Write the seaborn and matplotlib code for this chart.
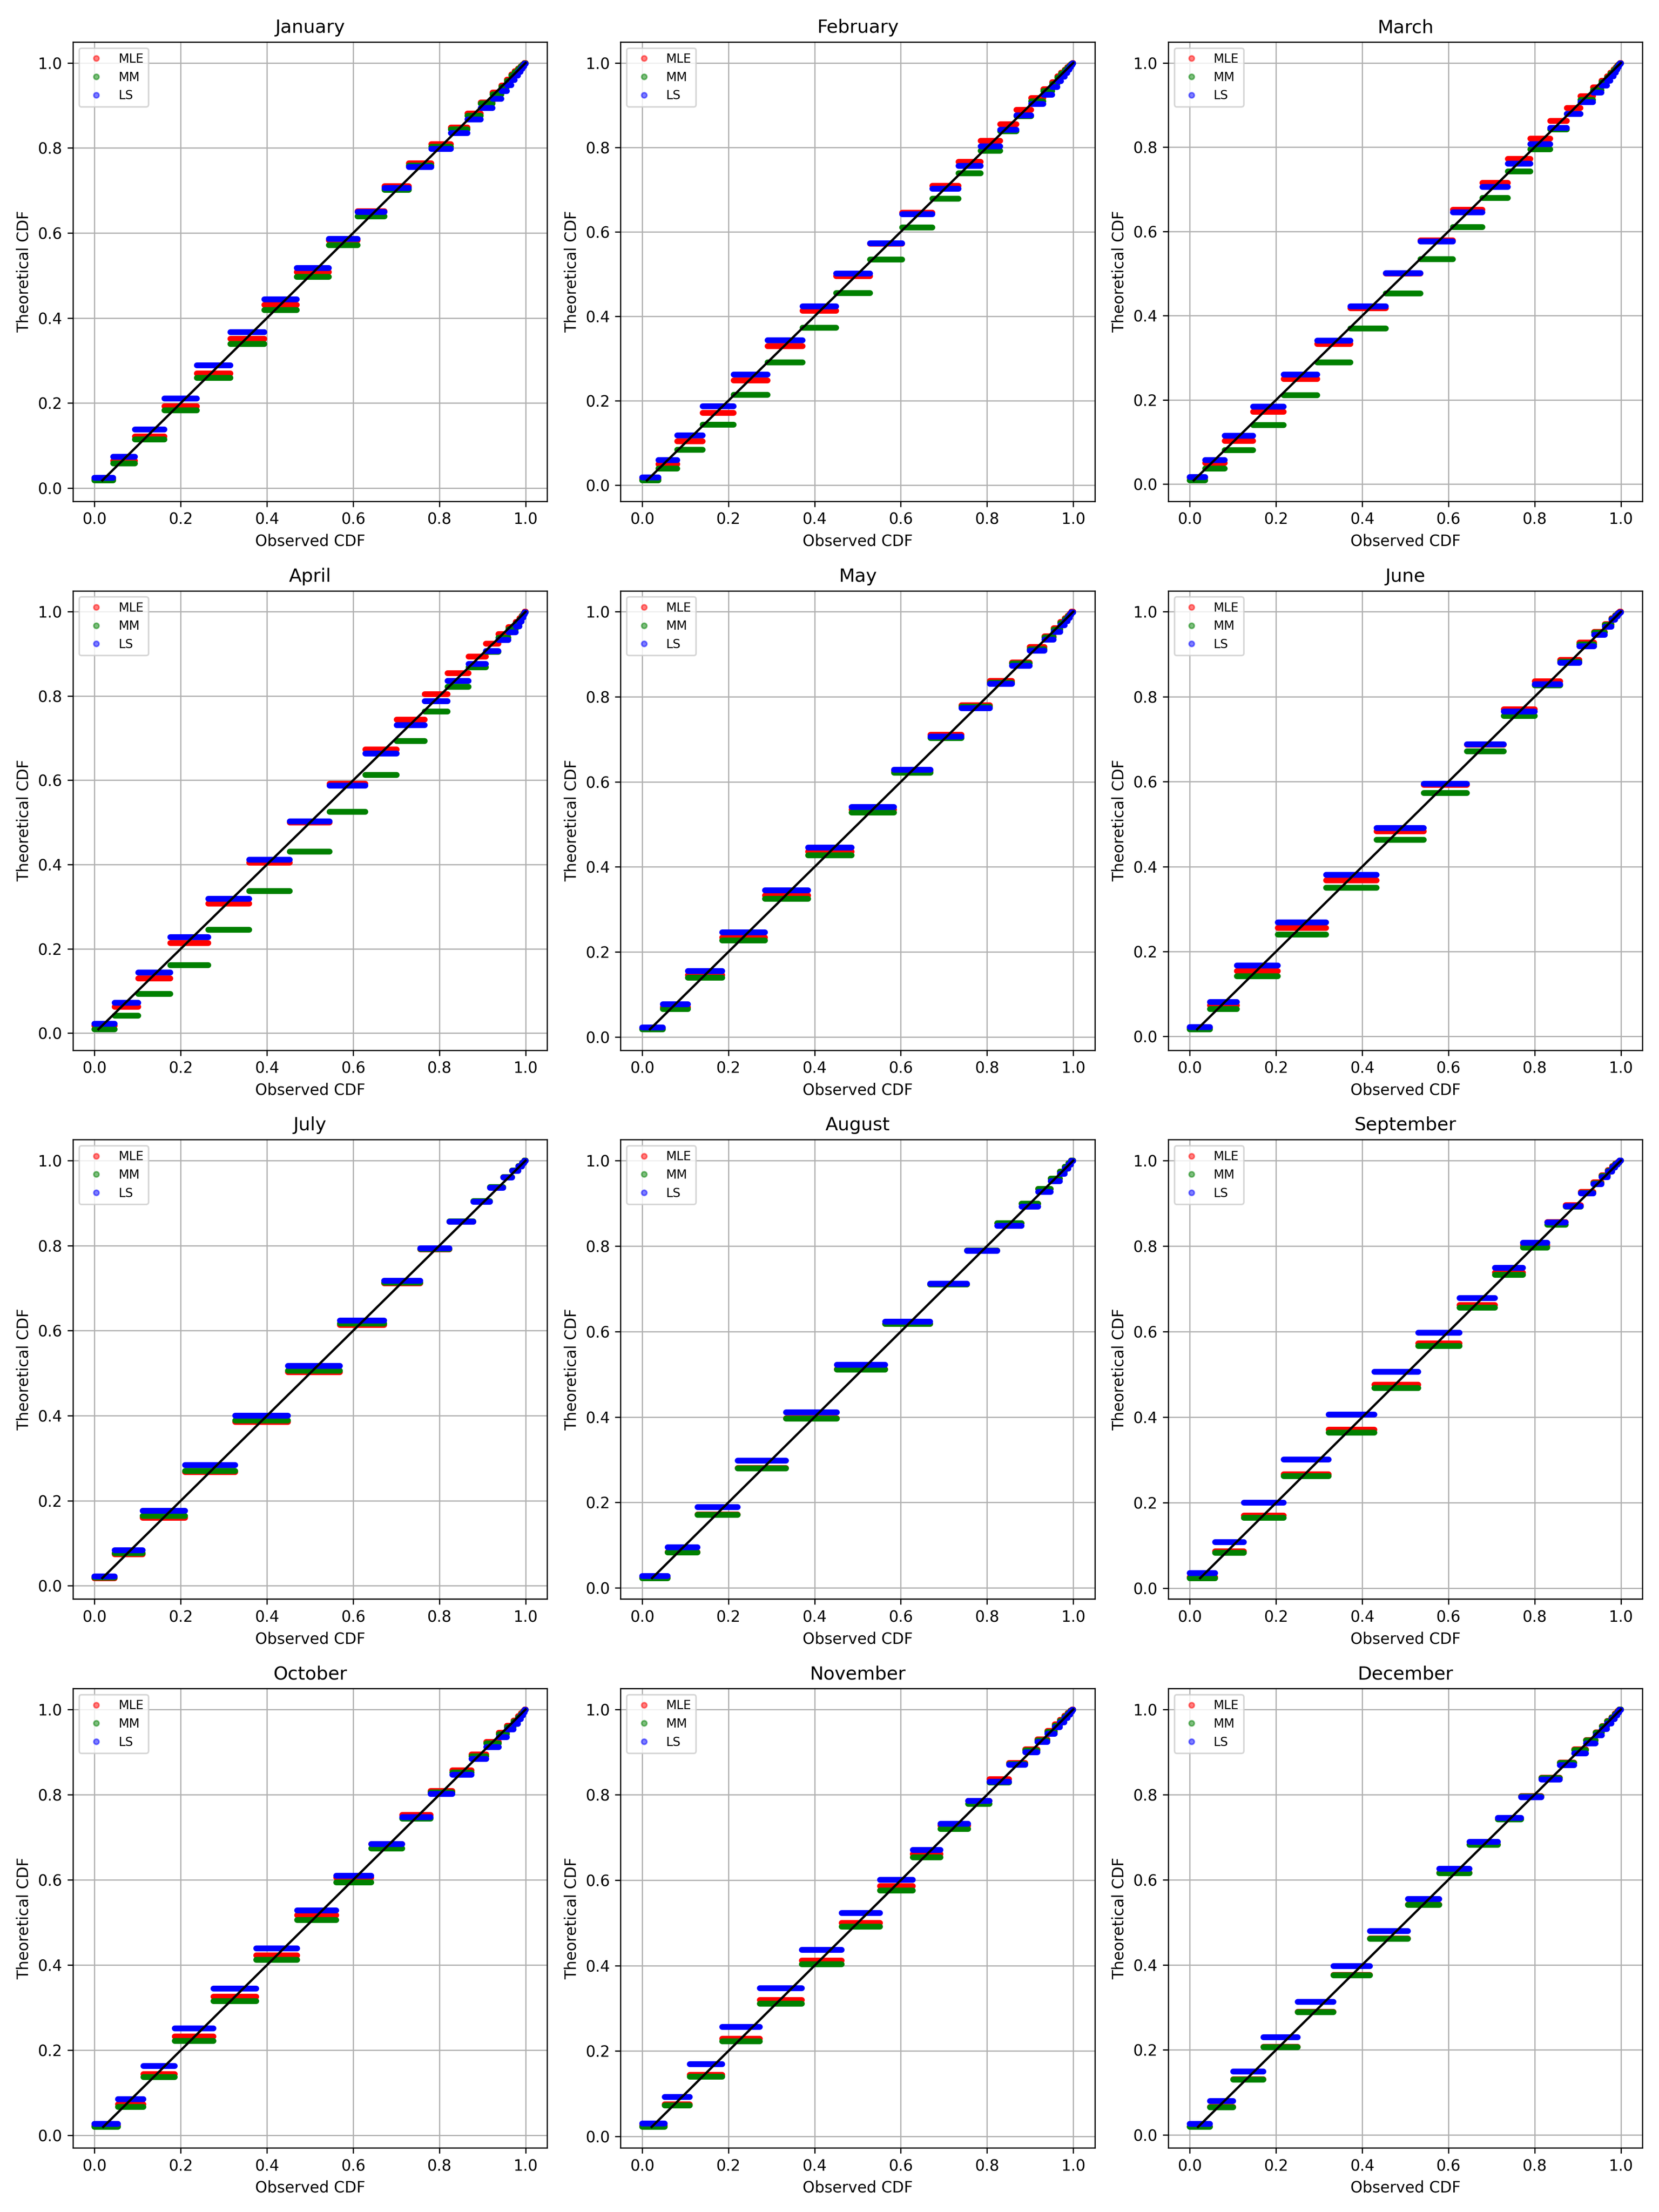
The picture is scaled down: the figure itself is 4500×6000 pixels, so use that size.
import numpy as np
import pandas as pd
import matplotlib
matplotlib.use("Agg")
import matplotlib.pyplot as plt
from matplotlib.lines import Line2D
import seaborn as sns

months = ["January", "February", "March", "April", "May", "June",
          "July", "August", "September", "October", "November", "December"]
methods = ["MLE", "MM", "LS"]
colors = {"MLE": "red", "MM": "green", "LS": "blue"}

# step boundaries on the observed CDF axis, and the theoretical CDF level of each step
jan_edges = [0.0, 0.043, 0.094, 0.162, 0.237, 0.315, 0.394, 0.469, 0.544, 0.610, 0.673, 0.729, 0.781,
             0.827, 0.865, 0.896, 0.923, 0.944, 0.957, 0.967, 0.975, 0.982, 0.988, 0.993, 0.997, 1.0]
jan_mle = [0.022, 0.064, 0.121, 0.192, 0.270, 0.351, 0.431, 0.508, 0.583, 0.651, 0.710, 0.764, 0.809,
           0.848, 0.881, 0.907, 0.930, 0.947, 0.961, 0.973, 0.981, 0.987, 0.992, 0.996, 1.0]
jan_mm = [0.018, 0.058, 0.114, 0.183, 0.259, 0.339, 0.419, 0.497, 0.571, 0.639, 0.701, 0.759, 0.803,
          0.844, 0.876, 0.904, 0.926, 0.943, 0.957, 0.970, 0.978, 0.985, 0.991, 0.995, 0.999]
jan_ls = [0.024, 0.074, 0.138, 0.211, 0.289, 0.367, 0.444, 0.518, 0.586, 0.649, 0.706, 0.755, 0.798,
          0.835, 0.867, 0.894, 0.916, 0.934, 0.948, 0.960, 0.970, 0.979, 0.986, 0.992, 0.998]

feb_edges = [0.0, 0.038, 0.081, 0.140, 0.212, 0.291, 0.372, 0.450, 0.529, 0.603, 0.673, 0.734, 0.785,
             0.831, 0.868, 0.902, 0.931, 0.951, 0.963, 0.972, 0.980, 0.986, 0.991, 0.995, 0.998, 1.0]
feb_mle = [0.015, 0.050, 0.104, 0.171, 0.248, 0.329, 0.413, 0.495, 0.572, 0.645, 0.709, 0.766, 0.815,
           0.855, 0.889, 0.917, 0.938, 0.954, 0.968, 0.977, 0.984, 0.990, 0.994, 0.997, 1.0]
feb_mm = [0.011, 0.039, 0.084, 0.143, 0.214, 0.291, 0.373, 0.455, 0.534, 0.610, 0.678, 0.739, 0.792,
          0.838, 0.874, 0.909, 0.933, 0.950, 0.965, 0.974, 0.982, 0.988, 0.993, 0.997, 0.999]
feb_ls = [0.018, 0.059, 0.118, 0.187, 0.262, 0.343, 0.423, 0.501, 0.573, 0.642, 0.702, 0.756, 0.802,
          0.842, 0.876, 0.903, 0.925, 0.943, 0.957, 0.967, 0.976, 0.984, 0.990, 0.995, 0.999]

mar_edges = [0.0, 0.036, 0.081, 0.147, 0.218, 0.296, 0.373, 0.455, 0.535, 0.610, 0.679, 0.738, 0.790,
             0.836, 0.875, 0.906, 0.935, 0.955, 0.968, 0.976, 0.983, 0.988, 0.992, 0.995, 0.998, 1.0]
mar_mle = [0.015, 0.050, 0.103, 0.172, 0.250, 0.333, 0.418, 0.500, 0.579, 0.651, 0.715, 0.772, 0.820,
           0.862, 0.893, 0.921, 0.942, 0.958, 0.968, 0.977, 0.985, 0.990, 0.994, 0.997, 1.0]
mar_mm = [0.009, 0.037, 0.081, 0.140, 0.211, 0.289, 0.370, 0.453, 0.534, 0.610, 0.679, 0.742, 0.795,
          0.842, 0.879, 0.912, 0.935, 0.954, 0.965, 0.974, 0.982, 0.988, 0.993, 0.997, 0.999]
mar_ls = [0.017, 0.057, 0.115, 0.184, 0.260, 0.341, 0.422, 0.501, 0.576, 0.645, 0.706, 0.761, 0.807,
          0.846, 0.879, 0.907, 0.930, 0.946, 0.958, 0.968, 0.977, 0.984, 0.990, 0.995, 0.999]

apr_edges = [0.0, 0.047, 0.101, 0.176, 0.264, 0.359, 0.453, 0.545, 0.628, 0.701, 0.766, 0.819, 0.868,
             0.908, 0.937, 0.960, 0.977, 0.986, 0.991, 0.995, 0.998, 1.0]
apr_mle = [0.018, 0.062, 0.130, 0.214, 0.307, 0.404, 0.500, 0.592, 0.673, 0.744, 0.804, 0.854, 0.894,
           0.924, 0.947, 0.964, 0.976, 0.985, 0.991, 0.996, 1.0]
apr_mm = [0.009, 0.041, 0.093, 0.161, 0.245, 0.337, 0.431, 0.525, 0.613, 0.693, 0.763, 0.822, 0.868,
          0.905, 0.938, 0.958, 0.971, 0.981, 0.989, 0.995, 0.999]
apr_ls = [0.022, 0.072, 0.144, 0.228, 0.319, 0.411, 0.502, 0.587, 0.663, 0.731, 0.788, 0.836, 0.876,
          0.907, 0.933, 0.951, 0.965, 0.977, 0.986, 0.993, 0.999]

may_edges = [0.0, 0.048, 0.106, 0.186, 0.285, 0.385, 0.486, 0.584, 0.669, 0.741, 0.807, 0.858, 0.899,
             0.933, 0.955, 0.970, 0.980, 0.987, 0.992, 0.996, 1.0]
may_mle = [0.020, 0.070, 0.145, 0.234, 0.333, 0.436, 0.535, 0.626, 0.711, 0.780, 0.837, 0.881, 0.917,
           0.942, 0.961, 0.976, 0.985, 0.991, 0.996, 1.0]
may_mm = [0.018, 0.066, 0.139, 0.227, 0.325, 0.427, 0.528, 0.621, 0.703, 0.777, 0.833, 0.878, 0.912,
          0.940, 0.958, 0.973, 0.982, 0.989, 0.994, 0.999]
may_ls = [0.022, 0.077, 0.155, 0.246, 0.345, 0.445, 0.541, 0.628, 0.706, 0.773, 0.830, 0.873, 0.908,
          0.934, 0.953, 0.968, 0.978, 0.986, 0.993, 0.999]

jun_edges = [0.0, 0.047, 0.109, 0.204, 0.316, 0.433, 0.543, 0.643, 0.728, 0.800, 0.859, 0.904, 0.938,
             0.963, 0.978, 0.987, 0.993, 0.997, 1.0]
jun_mle = [0.020, 0.073, 0.154, 0.256, 0.368, 0.483, 0.592, 0.687, 0.770, 0.836, 0.887, 0.927, 0.953,
           0.971, 0.985, 0.992, 0.997, 1.0]
jun_mm = [0.017, 0.065, 0.142, 0.240, 0.350, 0.463, 0.573, 0.671, 0.755, 0.827, 0.882, 0.923, 0.951,
          0.969, 0.983, 0.991, 0.996, 0.999]
jun_ls = [0.022, 0.081, 0.167, 0.269, 0.381, 0.491, 0.595, 0.688, 0.765, 0.829, 0.880, 0.919, 0.946,
          0.965, 0.981, 0.989, 0.995, 0.999]

jul_edges = [0.0, 0.047, 0.112, 0.210, 0.326, 0.449, 0.569, 0.672, 0.756, 0.823, 0.879, 0.917, 0.948,
             0.969, 0.983, 0.992, 0.997, 1.0]
jul_mle = [0.018, 0.074, 0.160, 0.267, 0.385, 0.502, 0.613, 0.711, 0.791, 0.856, 0.904, 0.937, 0.961,
           0.977, 0.987, 0.995, 1.0]
jul_mm = [0.019, 0.077, 0.164, 0.270, 0.389, 0.506, 0.617, 0.713, 0.792, 0.857, 0.905, 0.938, 0.961,
          0.977, 0.987, 0.995, 1.0]
jul_ls = [0.022, 0.084, 0.176, 0.284, 0.400, 0.517, 0.624, 0.717, 0.794, 0.856, 0.903, 0.936, 0.960,
          0.976, 0.986, 0.994, 0.999]

aug_edges = [0.0, 0.059, 0.128, 0.222, 0.334, 0.452, 0.564, 0.668, 0.754, 0.824, 0.880, 0.919, 0.948,
             0.969, 0.980, 0.989, 0.995, 1.0]
aug_mle = [0.024, 0.084, 0.172, 0.281, 0.397, 0.512, 0.618, 0.710, 0.790, 0.853, 0.899, 0.934, 0.958,
           0.974, 0.985, 0.994, 1.0]
aug_mm = [0.023, 0.083, 0.171, 0.280, 0.396, 0.511, 0.618, 0.710, 0.790, 0.853, 0.899, 0.934, 0.958,
          0.974, 0.985, 0.994, 1.0]
aug_ls = [0.028, 0.095, 0.189, 0.298, 0.411, 0.522, 0.623, 0.712, 0.789, 0.847, 0.892, 0.927, 0.952,
          0.969, 0.981, 0.991, 0.999]

sep_edges = [0.0, 0.059, 0.125, 0.218, 0.322, 0.428, 0.530, 0.626, 0.708, 0.773, 0.829, 0.872, 0.907,
             0.936, 0.955, 0.970, 0.980, 0.987, 0.993, 0.997, 1.0]
sep_mle = [0.026, 0.087, 0.170, 0.267, 0.371, 0.476, 0.573, 0.662, 0.738, 0.803, 0.856, 0.896, 0.927,
           0.949, 0.966, 0.978, 0.987, 0.993, 0.997, 1.0]
sep_mm = [0.024, 0.083, 0.165, 0.262, 0.364, 0.468, 0.567, 0.656, 0.733, 0.797, 0.850, 0.892, 0.924,
          0.947, 0.964, 0.976, 0.985, 0.992, 0.996, 1.0]
sep_ls = [0.036, 0.108, 0.200, 0.301, 0.406, 0.506, 0.598, 0.679, 0.749, 0.808, 0.855, 0.893, 0.923,
          0.945, 0.961, 0.974, 0.984, 0.991, 0.996, 1.0]

oct_edges = [0.0, 0.054, 0.113, 0.186, 0.276, 0.375, 0.470, 0.561, 0.642, 0.714, 0.780, 0.830, 0.875,
             0.909, 0.938, 0.957, 0.972, 0.982, 0.989, 0.994, 0.998, 1.0]
oct_mle = [0.023, 0.073, 0.144, 0.232, 0.326, 0.423, 0.517, 0.605, 0.684, 0.752, 0.809, 0.857, 0.894,
           0.924, 0.945, 0.962, 0.974, 0.984, 0.991, 0.996, 1.0]
oct_mm = [0.020, 0.067, 0.137, 0.222, 0.315, 0.412, 0.506, 0.594, 0.674, 0.744, 0.805, 0.852, 0.890,
          0.920, 0.942, 0.958, 0.971, 0.981, 0.989, 0.995, 0.999]
oct_ls = [0.027, 0.085, 0.163, 0.251, 0.345, 0.439, 0.528, 0.610, 0.684, 0.747, 0.802, 0.847, 0.884,
          0.912, 0.935, 0.953, 0.966, 0.977, 0.986, 0.993, 0.999]

nov_edges = [0.0, 0.052, 0.110, 0.186, 0.273, 0.370, 0.463, 0.552, 0.628, 0.692, 0.756, 0.806, 0.851,
             0.889, 0.917, 0.940, 0.957, 0.969, 0.979, 0.987, 0.993, 0.997, 1.0]
nov_mle = [0.026, 0.075, 0.144, 0.229, 0.319, 0.412, 0.500, 0.586, 0.661, 0.728, 0.786, 0.837, 0.875,
           0.907, 0.930, 0.950, 0.965, 0.976, 0.985, 0.992, 0.997, 1.0]
nov_mm = [0.022, 0.072, 0.140, 0.223, 0.311, 0.403, 0.491, 0.576, 0.654, 0.720, 0.779, 0.829, 0.872,
          0.904, 0.927, 0.947, 0.962, 0.973, 0.983, 0.990, 0.996, 0.999]
nov_ls = [0.030, 0.092, 0.169, 0.256, 0.347, 0.437, 0.523, 0.601, 0.671, 0.732, 0.786, 0.831, 0.870,
          0.900, 0.924, 0.943, 0.958, 0.970, 0.980, 0.988, 0.995, 0.999]

dec_edges = [0.0, 0.047, 0.101, 0.171, 0.250, 0.333, 0.418, 0.506, 0.579, 0.649, 0.715, 0.769, 0.816,
             0.858, 0.892, 0.919, 0.941, 0.956, 0.968, 0.978, 0.986, 0.992, 0.996, 1.0]
dec_mle = [0.020, 0.066, 0.131, 0.207, 0.290, 0.376, 0.462, 0.542, 0.616, 0.683, 0.743, 0.796, 0.840,
           0.875, 0.906, 0.928, 0.946, 0.961, 0.973, 0.982, 0.990, 0.996, 1.0]
dec_mm = [0.019, 0.065, 0.130, 0.206, 0.289, 0.375, 0.461, 0.541, 0.615, 0.682, 0.742, 0.795, 0.839,
          0.874, 0.905, 0.927, 0.945, 0.960, 0.972, 0.981, 0.989, 0.995, 1.0]
dec_ls = [0.026, 0.080, 0.149, 0.230, 0.313, 0.397, 0.479, 0.555, 0.626, 0.689, 0.745, 0.794, 0.835,
          0.869, 0.897, 0.920, 0.939, 0.954, 0.967, 0.977, 0.986, 0.993, 0.999]

month_data = [
    (jan_edges, jan_mle, jan_mm, jan_ls),
    (feb_edges, feb_mle, feb_mm, feb_ls),
    (mar_edges, mar_mle, mar_mm, mar_ls),
    (apr_edges, apr_mle, apr_mm, apr_ls),
    (may_edges, may_mle, may_mm, may_ls),
    (jun_edges, jun_mle, jun_mm, jun_ls),
    (jul_edges, jul_mle, jul_mm, jul_ls),
    (aug_edges, aug_mle, aug_mm, aug_ls),
    (sep_edges, sep_mle, sep_mm, sep_ls),
    (oct_edges, oct_mle, oct_mm, oct_ls),
    (nov_edges, nov_mle, nov_mm, nov_ls),
    (dec_edges, dec_mle, dec_mm, dec_ls),
]


def steps_frame(edges, mle, mm, ls):
    # long-form table: each step is one "unit" with a start and an end point
    rows = []
    for name, levels in zip(methods, (mle, mm, ls)):
        for i, y in enumerate(levels):
            rows.append((name, i, edges[i], y))
            rows.append((name, i, edges[i + 1], y))
    return pd.DataFrame(rows, columns=["method", "step", "obs", "theo"])


fig, axes = plt.subplots(4, 3, figsize=(15, 20))

legend_handles = [Line2D([], [], marker="o", ls="", color=colors[m], alpha=0.5,
                         markersize=3.4, label=m) for m in methods]

for ax, month, (edges, mle, mm, ls) in zip(axes.flat, months, month_data):
    df = steps_frame(edges, mle, mm, ls)
    sns.lineplot(data=df, x="obs", y="theo", hue="method", hue_order=methods,
                 palette=colors, units="step", estimator=None, sort=False,
                 lw=3.8, solid_capstyle="round", legend=False, ax=ax)
    lo = min(min(mle), min(mm), min(ls))
    ax.plot([lo, 1], [lo, 1], color="black", lw=1.5)
    ax.set_title(month)
    ax.set_xlabel("Observed CDF")
    ax.set_ylabel("Theoretical CDF")
    ax.grid(True)
    ax.legend(handles=legend_handles, loc="upper left", fontsize=8)

plt.subplots_adjust(left=0.044, right=0.99, top=0.981, bottom=0.029, wspace=0.155, hspace=0.195)
plt.savefig("out.png", dpi=300)
